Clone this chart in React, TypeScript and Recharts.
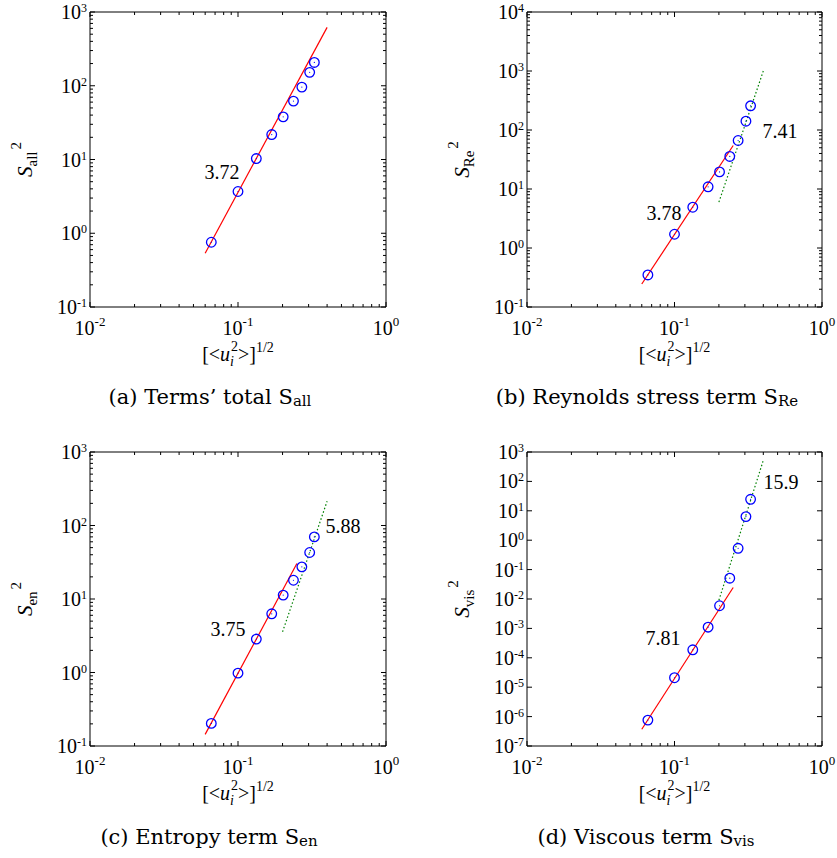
import React from 'react';
import { ComposedChart, Scatter, XAxis, YAxis, ReferenceDot, ReferenceLine } from 'recharts';

// rms velocity, shared by all four panels
const xValues = [0.066, 0.1, 0.133, 0.169, 0.202, 0.237, 0.27, 0.305, 0.328];

// squared skewness terms
const sAll = [0.755, 3.68, 10.3, 21.8, 37.9, 61.9, 95.9, 152, 207];
const sRe = [0.349, 1.71, 4.91, 10.9, 19.5, 35.6, 66.4, 141, 257];
const sEn = [0.203, 0.98, 2.85, 6.29, 11.3, 18.0, 27.4, 42.9, 70.0];
const sVis = [7.6e-7, 2.1e-5, 1.87e-4, 1.1e-3, 5.9e-3, 0.051, 0.53, 6.35, 24.6];

// power-law fits (end points)
const fitAllLow = [{ x: 0.06, y: 0.535 }, { x: 0.4, y: 619 }];
const fitReLow = [{ x: 0.06, y: 0.245 }, { x: 0.25, y: 54.6 }];
const fitReHigh = [{ x: 0.2, y: 6.0 }, { x: 0.4, y: 1000 }];
const fitEnLow = [{ x: 0.06, y: 0.144 }, { x: 0.25, y: 30.4 }];
const fitEnHigh = [{ x: 0.2, y: 3.58 }, { x: 0.4, y: 214 }];
const fitVisLow = [{ x: 0.06, y: 3.7e-7 }, { x: 0.25, y: 0.0246 }];
const fitVisHigh = [{ x: 0.2, y: 9.1e-3 }, { x: 0.4, y: 521 }];

// slope labels
const labelsAll = [{ x: 0.078, y: 6.8, text: '3.72' }];
const labelsRe = [{ x: 0.085, y: 3.9, text: '3.78' }, { x: 0.52, y: 96, text: '7.41' }];
const labelsEn = [{ x: 0.0856, y: 3.9, text: '3.75' }, { x: 0.512, y: 98, text: '5.88' }];
const labelsVis = [{ x: 0.0836, y: 4.7e-4, text: '7.81' }, { x: 0.527, y: 95, text: '15.9' }];

// ticks
const xMajor = [0.01, 0.1, 1];
const xMinor = [0.02, 0.03, 0.04, 0.05, 0.06, 0.07, 0.08, 0.09, 0.2, 0.3, 0.4, 0.5, 0.6, 0.7, 0.8, 0.9];
const yMajor4 = [0.1, 1, 10, 100, 1000];
const yMajor5 = [0.1, 1, 10, 100, 1000, 10000];
const yMajorVis = [1e-7, 1e-6, 1e-5, 1e-4, 1e-3, 1e-2, 1e-1, 1, 10, 100, 1000];
const yMinor4 = [0.2, 0.3, 0.4, 0.5, 0.6, 0.7, 0.8, 0.9, 2, 3, 4, 5, 6, 7, 8, 9, 20, 30, 40, 50, 60, 70, 80, 90, 200, 300, 400, 500, 600, 700, 800, 900];
const yMinor5 = [...yMinor4, 2000, 3000, 4000, 5000, 6000, 7000, 8000, 9000];

const FONT = '"Liberation Serif", "Times New Roman", serif';
const CAP_FONT = '"DejaVu Serif", serif';
const Y_AXIS_W = 40;
const X_AXIS_H = 30;

const zip = (ys: number[]) => xValues.map((x, i) => ({ x, y: ys[i] }));
const isMajor = (v: number, majors: number[]) => majors.some((m) => Math.abs(Math.log10(m) - Math.log10(v)) < 1e-6);
const expOf = (v: number) => String(Math.round(Math.log10(v)));

const Circle = (p: any) => (
  <g>
    <circle cx={p.cx} cy={p.cy} r={4.8} fill="none" stroke="#0000ff" strokeWidth={1.3} />
    <circle cx={p.cx} cy={p.cy} r={0.6} fill="#0000ff" />
  </g>
);
const NoShape = () => <g />;

type PanelProps = {
  left: number; top: number; width: number; height: number;
  plot: { top: number; left: number; right: number; bottom: number };
  points: { x: number; y: number }[];
  low: { x: number; y: number }[];
  high?: { x: number; y: number }[];
  labels: { x: number; y: number; text: string }[];
  yDomain: [number, number];
  yMajor: number[];
  yMinor: number[];
  ySub: string;
  caption: string;
  capSub: string;
  capX: number;
  capY: number;
};

const Panel = (pp: PanelProps) => {
  const { width, height, plot } = pp;
  const plotW = width - plot.left - plot.right;
  const plotH = height - plot.top - plot.bottom;
  const margin = { top: plot.top, right: plot.right, left: plot.left - Y_AXIS_W, bottom: plot.bottom - X_AXIS_H };

  const xTick = (props: any) => {
    const { x, y, payload } = props;
    const major = isMajor(payload.value, xMajor);
    const len = major ? 5 : 3;
    return (
      <g>
        <line x1={x} y1={y} x2={x} y2={y - len} stroke="#000" />
        <line x1={x} y1={y - plotH} x2={x} y2={y - plotH + len} stroke="#000" />
        {major && (
          <text x={x} y={y + 28} textAnchor="middle" fontFamily={FONT} fontSize={20} fill="#000">
            10<tspan fontSize={13} dy={-9}>{expOf(payload.value)}</tspan>
          </text>
        )}
      </g>
    );
  };

  const yTick = (props: any) => {
    const { x, y, payload } = props;
    const major = isMajor(payload.value, pp.yMajor);
    const len = major ? 5 : 3;
    return (
      <g>
        <line x1={x} y1={y} x2={x + len} y2={y} stroke="#000" />
        <line x1={x + plotW} y1={y} x2={x + plotW - len} y2={y} stroke="#000" />
        {major && (
          <text x={x - 3} y={y + 7} textAnchor="end" fontFamily={FONT} fontSize={20} fill="#000">
            10<tspan fontSize={12} dy={-7}>{expOf(payload.value)}</tspan>
          </text>
        )}
      </g>
    );
  };

  const yTitleX = plot.left - 58;
  const yTitleY = plot.top + plotH / 2;
  const xTitleX = plot.left + plotW / 2;
  const xTitleY = plot.top + plotH + 54;

  return (
    <div style={{ position: 'absolute', left: pp.left, top: pp.top, width, height }}>
      <ComposedChart width={width} height={height} margin={margin}>
        <XAxis
          dataKey="x" type="number" scale="log" domain={[0.01, 1]} allowDataOverflow
          ticks={[...xMajor, ...xMinor]} interval={0} tickSize={0} tickMargin={0} height={X_AXIS_H}
          tick={xTick} axisLine={{ stroke: '#000' }}
        />
        <YAxis
          dataKey="y" type="number" scale="log" domain={pp.yDomain} allowDataOverflow
          ticks={[...pp.yMajor, ...pp.yMinor]} interval={0} tickSize={0} tickMargin={0} width={Y_AXIS_W}
          tick={yTick} axisLine={{ stroke: '#000' }}
        />
        <ReferenceLine y={pp.yDomain[1]} stroke="#000" ifOverflow="visible" />
        <ReferenceLine x={1} stroke="#000" ifOverflow="visible" />
        <Scatter data={pp.low} line={{ stroke: '#ff0000', strokeWidth: 1.2 }} shape={NoShape} isAnimationActive={false} />
        {pp.high && (
          <Scatter data={pp.high} line={{ stroke: '#008000', strokeWidth: 1.2, strokeDasharray: '1.5 2.2' }} shape={NoShape} isAnimationActive={false} />
        )}
        <Scatter data={pp.points} shape={Circle} isAnimationActive={false} />
        {pp.labels.map((l) => (
          <ReferenceDot
            key={l.text} x={l.x} y={l.y} r={0} stroke="none" fill="none" ifOverflow="visible"
            label={{ value: l.text, position: 'center', fontFamily: FONT, fontSize: 20, fill: '#000' }}
          />
        ))}
      </ComposedChart>
      <svg width={width} height={height} style={{ position: 'absolute', left: 0, top: 0, pointerEvents: 'none' }}>
        <text
          x={yTitleX} y={yTitleY} transform={`rotate(-90 ${yTitleX} ${yTitleY})`}
          textAnchor="middle" fontFamily={FONT} fontSize={21} fill="#000"
        >
          <tspan fontStyle="italic">S</tspan>
          <tspan fontSize={15} dy={5}>{pp.ySub}</tspan>
          <tspan fontSize={15} dy={-16} dx={2}>2</tspan>
        </text>
        <text x={xTitleX} y={xTitleY} textAnchor="middle" fontFamily={FONT} fontSize={20} fill="#000">
          {'[<'}
          <tspan fontStyle="italic">u</tspan>
          <tspan fontStyle="italic" fontSize={14} dy={5}>i</tspan>
          <tspan fontSize={14} dy={-15} dx={-3}>2</tspan>
          <tspan dy={10}>{'>]'}</tspan>
          <tspan fontSize={14} dy={-9}>1/2</tspan>
        </text>
        <text x={pp.capX} y={pp.capY} textAnchor="middle" fontFamily={CAP_FONT} fontSize={21} fill="#000">
          {pp.caption}
          <tspan fontSize={15} dy={2}>{pp.capSub}</tspan>
        </text>
      </svg>
    </div>
  );
};

const App = () => (
  <div style={{ position: 'absolute', left: 0, top: 0, width: 837, height: 858, background: '#fff' }}>
    <Panel
      left={0} top={0} width={420} height={420} plot={{ top: 12, left: 90, right: 34, bottom: 113 }}
      points={zip(sAll)} low={fitAllLow} labels={labelsAll}
      yDomain={[0.1, 1000]} yMajor={yMajor4} yMinor={yMinor4}
      ySub="all" caption="(a) Terms’ total S" capSub="all" capX={210} capY={404}
    />
    <Panel
      left={420} top={0} width={417} height={420} plot={{ top: 12, left: 107, right: 15, bottom: 113 }}
      points={zip(sRe)} low={fitReLow} high={fitReHigh} labels={labelsRe}
      yDomain={[0.1, 10000]} yMajor={yMajor5} yMinor={yMinor5}
      ySub="Re" caption="(b) Reynolds stress term S" capSub="Re" capX={227} capY={404}
    />
    <Panel
      left={0} top={420} width={420} height={438} plot={{ top: 32, left: 90, right: 34, bottom: 112 }}
      points={zip(sEn)} low={fitEnLow} high={fitEnHigh} labels={labelsEn}
      yDomain={[0.1, 1000]} yMajor={yMajor4} yMinor={yMinor4}
      ySub="en" caption="(c) Entropy term S" capSub="en" capX={209} capY={424}
    />
    <Panel
      left={420} top={420} width={417} height={438} plot={{ top: 32, left: 107, right: 15, bottom: 112 }}
      points={zip(sVis)} low={fitVisLow} high={fitVisHigh} labels={labelsVis}
      yDomain={[1e-7, 1000]} yMajor={yMajorVis} yMinor={[]}
      ySub="vis" caption="(d) Viscous term S" capSub="vis" capX={226} capY={424}
    />
  </div>
);

export default App;
